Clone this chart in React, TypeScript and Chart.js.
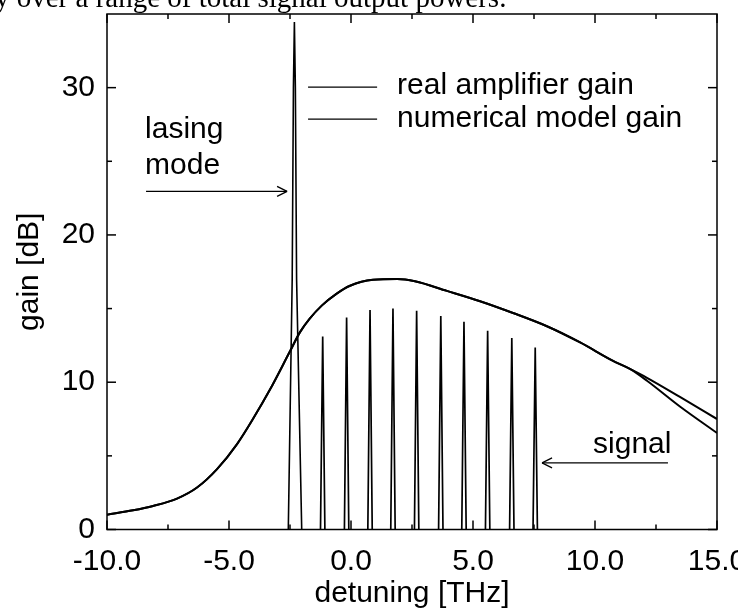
import React, { useEffect, useRef } from "react";
import { Chart, registerables } from "chart.js";

Chart.register(...registerables);

const FONT = '"Liberation Sans", Arial, Helvetica, sans-serif';

// Axis ticks
const xTickValues = [-10, -5, 0, 5, 10, 15];
const xMinorValues = [-7.5, -2.5, 2.5, 7.5, 12.5];
const yTickValues = [0, 10, 20, 30];
const yMinorValues = [5, 15, 25];

// Smooth gain curves (detuning in THz, gain in dB)
const detuning = [
  -10.0, -8.93, -8.11, -7.13, -6.31, -5.49, -4.67, -4.02, -3.32, -2.5, -2.09,
  -1.7, -1.2, -0.6, -0.04, 0.9, 1.89, 2.62, 3.93, 5.29, 6.64, 8.03, 9.39,
  10.74, 11.43, 12.13, 13.48, 15.0,
];
const realGain = [
  1.0, 1.3, 1.6, 2.1, 2.85, 4.1, 5.8, 7.5, 9.5, 12.1, 13.4, 14.3, 15.2, 16.0,
  16.55, 16.95, 17.0, 16.85, 16.2, 15.5, 14.7, 13.8, 12.7, 11.45, 10.9, 10.3, 9.0,
  7.5,
];
const modelGain = [
  1.0, 1.3, 1.6, 2.1, 2.85, 4.1, 5.8, 7.5, 9.5, 12.1, 13.4, 14.3, 15.2, 16.0,
  16.55, 16.95, 17.0, 16.85, 16.2, 15.5, 14.7, 13.8, 12.7, 11.45, 10.9, 10.1, 8.35,
  6.55,
];

// Lasing mode spike
const lasingX = [-2.57, -2.41, -2.36, -2.32, -2.28, -2.23, -2.02];
const lasingGain = [0, 17, 30, 34.45, 30, 17, 0];

// Signal channel spikes
const signalCenters = [-1.16, -0.18, 0.78, 1.72, 2.69, 3.68, 4.63, 5.6, 6.59, 7.55];
const signalPeaks = [13.1, 14.4, 14.9, 15.0, 14.85, 14.5, 14.1, 13.5, 13.0, 12.35];
const signalHalfWidth = 0.09;

const seriesLabels = ["real amplifier gain", "numerical model gain"];

export default function App() {
  const ref = useRef<HTMLCanvasElement>(null);

  useEffect(() => {
    if (!ref.current) return;

    const curve = (ys: number[]) => detuning.map((x, i) => ({ x, y: ys[i] }));
    const spikes: { x: number; y: number | null }[] = [];
    signalCenters.forEach((c, i) => {
      spikes.push({ x: c - signalHalfWidth, y: 0 });
      spikes.push({ x: c, y: signalPeaks[i] });
      spikes.push({ x: c + signalHalfWidth, y: 0 });
      spikes.push({ x: c + signalHalfWidth, y: null });
    });
    const lasing = lasingX.map((x, i) => ({ x, y: lasingGain[i] }));

    const framePlugin = {
      id: "frame",
      afterDatasetsDraw(chart: any) {
        const { ctx, chartArea: a, scales } = chart;
        const xs = scales.x;
        const ys = scales.y;
        ctx.save();
        ctx.strokeStyle = "#000";
        ctx.lineWidth = 1.5;
        ctx.strokeRect(a.left, a.top, a.right - a.left, a.bottom - a.top);
        const seg = (x1: number, y1: number, x2: number, y2: number) => {
          ctx.beginPath();
          ctx.moveTo(x1, y1);
          ctx.lineTo(x2, y2);
          ctx.stroke();
        };
        const MAJ = 9;
        const MIN = 5;
        xTickValues.forEach((v) => {
          const p = xs.getPixelForValue(v);
          seg(p, a.bottom, p, a.bottom - MAJ);
          seg(p, a.top, p, a.top + MAJ);
        });
        xMinorValues.forEach((v) => {
          const p = xs.getPixelForValue(v);
          seg(p, a.bottom, p, a.bottom - MIN);
          seg(p, a.top, p, a.top + MIN);
        });
        yTickValues.forEach((v) => {
          const p = ys.getPixelForValue(v);
          seg(a.left, p, a.left + MAJ, p);
          seg(a.right, p, a.right - MAJ, p);
        });
        yMinorValues.forEach((v) => {
          const p = ys.getPixelForValue(v);
          seg(a.left, p, a.left + MIN, p);
          seg(a.right, p, a.right - MIN, p);
        });

        // Legend
        ctx.font = `30px ${FONT}`;
        ctx.fillStyle = "#000";
        ctx.textBaseline = "alphabetic";
        ctx.textAlign = "left";
        ctx.lineWidth = 1.2;
        const legLineY = [30.03, 27.86];
        const legTextY = [29.56, 27.31];
        chart.data.datasets.slice(0, 2).forEach((ds: any, i: number) => {
          const ly = ys.getPixelForValue(legLineY[i]);
          seg(xs.getPixelForValue(-1.76), ly, xs.getPixelForValue(1.07), ly);
          ctx.fillText(ds.label, xs.getPixelForValue(1.89), ys.getPixelForValue(legTextY[i]));
        });

        // Annotations
        ctx.lineWidth = 1.3;
        ctx.fillText("lasing", xs.getPixelForValue(-8.44), ys.getPixelForValue(26.56));
        ctx.fillText("mode", xs.getPixelForValue(-8.44), ys.getPixelForValue(24.12));
        const ay = ys.getPixelForValue(22.96);
        const ax1 = xs.getPixelForValue(-8.4);
        const ax2 = xs.getPixelForValue(-2.62);
        seg(ax1, ay, ax2, ay);
        seg(ax2, ay, ax2 - 10, ay - 5);
        seg(ax2, ay, ax2 - 10, ay + 5);

        ctx.fillText("signal", xs.getPixelForValue(9.92), ys.getPixelForValue(5.2));
        const sy = ys.getPixelForValue(4.52);
        const sx1 = xs.getPixelForValue(12.99);
        const sx2 = xs.getPixelForValue(7.83);
        seg(sx1, sy, sx2, sy);
        seg(sx2, sy, sx2 + 10, sy - 5);
        seg(sx2, sy, sx2 + 10, sy + 5);

        ctx.restore();
      },
    };

    const chart = new Chart(ref.current, {
      type: "line",
      data: {
        datasets: [
          {
            label: seriesLabels[0],
            data: curve(realGain),
            borderColor: "#000",
            borderWidth: 2,
            pointRadius: 0,
            cubicInterpolationMode: "monotone",
            fill: false,
          },
          {
            label: seriesLabels[1],
            data: curve(modelGain),
            borderColor: "#000",
            borderWidth: 2,
            pointRadius: 0,
            cubicInterpolationMode: "monotone",
            fill: false,
          },
          {
            label: "lasing mode",
            data: lasing,
            borderColor: "#000",
            borderWidth: 1.6,
            pointRadius: 0,
            tension: 0,
            fill: false,
          },
          {
            label: "signal",
            data: spikes as any,
            borderColor: "#000",
            borderWidth: 1.7,
            pointRadius: 0,
            tension: 0,
            spanGaps: false,
            fill: false,
          },
        ],
      },
      options: {
        responsive: false,
        animation: false,
        parsing: true,
        layout: { padding: { left: 0, right: 21, top: 14, bottom: 0 } },
        plugins: {
          legend: { display: false },
          tooltip: { enabled: false },
          title: { display: false },
        },
        scales: {
          x: {
            type: "linear",
            min: -10,
            max: 15,
            afterBuildTicks: (s: any) => {
              s.ticks = xTickValues.map((v) => ({ value: v }));
            },
            afterFit: (s: any) => {
              s.height = 80.5;
              s.paddingLeft = 0;
              s.paddingRight = 0;
            },
            grid: { display: false, drawTicks: false },
            border: { display: false },
            ticks: {
              font: { family: FONT, size: 30 },
              color: "#000",
              padding: 14,
              maxRotation: 0,
              autoSkip: false,
              callback: (v: any) => Number(v).toFixed(1),
            },
            title: {
              display: true,
              text: "detuning [THz]",
              color: "#000",
              font: { family: FONT, size: 30, lineHeight: 1 },
              padding: { top: 0, bottom: 1 },
            },
          },
          y: {
            type: "linear",
            min: 0,
            max: 35,
            afterBuildTicks: (s: any) => {
              s.ticks = yTickValues.map((v) => ({ value: v }));
            },
            afterFit: (s: any) => {
              s.width = 107;
              s.paddingTop = 0;
              s.paddingBottom = 0;
            },
            grid: { display: false, drawTicks: false },
            border: { display: false },
            ticks: {
              font: { family: FONT, size: 30 },
              color: "#000",
              padding: 12,
              autoSkip: false,
            },
            title: {
              display: true,
              text: "gain [dB]",
              color: "#000",
              font: { family: FONT, size: 30, lineHeight: 1.2 },
              padding: { top: 12, bottom: 0 },
            },
          },
        },
      } as any,
      plugins: [framePlugin],
    });

    return () => chart.destroy();
  }, []);

  return (
    <div
      style={{
        position: "fixed",
        left: 0,
        top: 0,
        width: 738,
        height: 610,
        overflow: "hidden",
        background: "#fff",
      }}
    >
      <canvas
        ref={ref}
        width={738}
        height={610}
        style={{ position: "absolute", left: 0, top: 0, width: 738, height: 610 }}
      />
      <div
        style={{
          position: "absolute",
          left: -5,
          top: -16.8,
          fontFamily: '"Liberation Serif", "Times New Roman", serif',
          fontSize: 29,
          lineHeight: "29px",
          whiteSpace: "nowrap",
          color: "#000",
        }}
      >
        y over a range of total signal output powers.
      </div>
    </div>
  );
}
